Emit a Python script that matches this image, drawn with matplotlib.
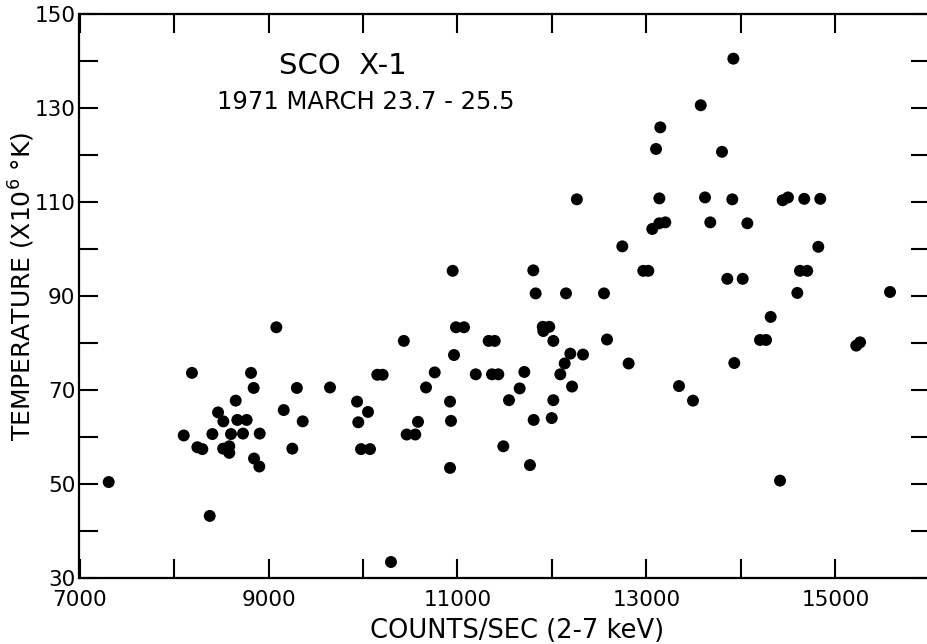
import matplotlib
matplotlib.use("Agg")
import matplotlib.pyplot as plt

plt.rcParams['font.family'] = ['DejaVu Sans']
plt.rcParams['mathtext.default'] = 'regular'

counts = [7309, 8103, 8190, 8247, 8300, 8378, 8406, 8466, 8522, 8520,
          8585, 8585, 8603, 8653, 8670, 8730, 8769, 8815, 8843, 8847,
          8903, 8907, 9083, 9161, 9252, 9300, 9362, 9651, 9937, 9950,
          9979, 10053, 10074, 10151, 10208, 10296, 10432, 10462, 10553, 10582,
          10667, 10759, 10921, 10931, 10921, 10949, 10963, 10984, 11069, 11193,
          11330, 11394, 11365, 11432, 11485, 11545, 11658, 11707, 11767, 11802,
          11806, 11827, 11902, 11971, 11908, 11997, 12014, 12014, 12088, 12134,
          12148, 12194, 12212, 12263, 12328, 12550, 12582, 12744, 12811, 12966,
          13019, 13061, 13101, 13135, 13136, 13146, 13199, 13344, 13492, 13574,
          13619, 13675, 13799, 13855, 13908, 13919, 13929, 14018, 14067, 14201,
          14265, 14314, 14413, 14441, 14497, 14596, 14624, 14669, 14701, 14818,
          14839, 15220, 15260, 15577]
temperature = [50.4, 60.3, 73.6, 57.8, 57.4, 43.2, 60.6, 65.2, 63.3, 57.5,
               58.0, 56.6, 60.6, 67.7, 63.6, 60.7, 63.6, 73.6, 70.4, 55.4,
               53.7, 60.7, 83.3, 65.7, 57.5, 70.4, 63.3, 70.5, 67.5, 63.1,
               57.4, 65.3, 57.4, 73.2, 73.2, 33.4, 80.4, 60.5, 60.5, 63.2,
               70.5, 73.7, 67.5, 63.4, 53.4, 95.3, 77.4, 83.3, 83.3, 73.3,
               80.4, 80.4, 73.3, 73.3, 58.0, 67.8, 70.3, 73.8, 54.0, 95.4,
               63.6, 90.5, 83.4, 83.4, 82.5, 64.0, 80.4, 67.8, 73.3, 75.6,
               90.5, 77.7, 70.7, 110.5, 77.5, 90.5, 80.7, 100.5, 75.6, 95.3,
               95.3, 104.2, 121.2, 105.4, 110.7, 125.8, 105.6, 70.8, 67.7, 130.5,
               110.9, 105.6, 120.6, 93.6, 110.5, 140.4, 75.7, 93.6, 105.4, 80.6,
               80.6, 85.5, 50.7, 110.3, 110.9, 90.6, 95.3, 110.6, 95.3, 100.4,
               110.6, 79.4, 80.1, 90.8]

x_ticks = [7000, 8000, 9000, 10000, 11000, 12000, 13000, 14000, 15000, 16000]
x_tick_labels = ['7000', '', '9000', '', '11000', '', '13000', '', '15000', '']
y_ticks = [30, 40, 50, 60, 70, 80, 90, 100, 110, 120, 130, 140, 150]
y_tick_labels = ['30', '', '50', '', '70', '', '90', '', '110', '', '130', '', '150']

title_line1 = "SCO  X-1"
title_line2 = "1971 MARCH 23.7 - 25.5"
x_label = "COUNTS/SEC (2-7 keV)"
y_label = "TEMPERATURE (X10$^{6}$ °K)"

W, H = 928, 644
fig = plt.figure(figsize=(W / 100, H / 100), dpi=100)
ax = fig.add_axes([79.5 / W, 1 - 578 / H, (930 - 79.5) / W, (578 - 13.5) / H])

ax.scatter(counts, temperature, s=74, c='black', edgecolors='none', zorder=3)

ax.set_xlim(7000, 16000)
ax.set_ylim(30, 150)
ax.set_xticks(x_ticks)
ax.set_xticklabels(x_tick_labels)
ax.set_yticks(y_ticks)
ax.set_yticklabels(y_tick_labels)

ax.tick_params(direction='in', length=14, width=1.5, top=True, right=True,
               labelsize=15.5, pad=3)
ax.tick_params(axis='x', pad=9)
for sp in ax.spines.values():
    sp.set_linewidth(1.6)

fig.text(517 / W, 1 - 631 / H, x_label, ha='center', va='center', fontsize=18.5)
fig.text(22 / W, 1 - 286 / H, y_label, ha='center', va='center', rotation=90, fontsize=18)
fig.text(343 / W, 1 - 66 / H, title_line1, ha='center', va='center', fontsize=21)
fig.text(366 / W, 1 - 102 / H, title_line2, ha='center', va='center', fontsize=17.5)

fig.savefig("out.png", dpi=100)
